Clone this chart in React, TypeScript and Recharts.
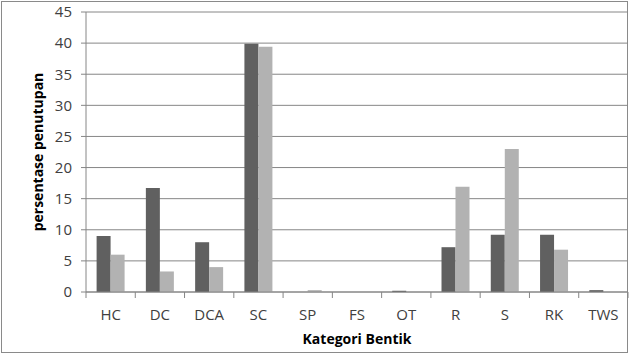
import React from 'react';
import { BarChart, Bar, XAxis, YAxis, CartesianGrid } from 'recharts';

const categories = ['HC', 'DC', 'DCA', 'SC', 'SP', 'FS', 'OT', 'R', 'S', 'RK', 'TWS'];
const seri1 = [9.0, 16.7, 8.0, 39.9, 0, 0, 0.2, 7.2, 9.2, 9.2, 0.3];
const seri2 = [6.0, 3.3, 4.0, 39.4, 0.3, 0, 0, 16.9, 23.0, 6.8, 0];
const yTicks = [0, 5, 10, 15, 20, 25, 30, 35, 40, 45];

const data = categories.map((c, i) => ({ kategori: c, seri1: seri1[i], seri2: seri2[i] }));

const W = 629;
const H = 354;
const margin = { top: 12, right: 1, bottom: 6, left: 0 };
const yAxisWidth = 86;
const band = (W - margin.left - margin.right - yAxisWidth) / categories.length;
const font = '"Open Sans", sans-serif';

const CategoryTick = (props: any) => {
  const { x, y, payload, index } = props;
  const axisY = y - 8;
  const left = x - band / 2;
  return (
    <g>
      <line x1={left} y1={axisY} x2={left} y2={axisY + 6} stroke="#868686" />
      {index === categories.length - 1 && (
        <line x1={x + band / 2} y1={axisY} x2={x + band / 2} y2={axisY + 6} stroke="#868686" />
      )}
      <text x={x} y={y} dy={20} textAnchor="middle" fill="#404040" fontSize={15} fontFamily={font}>
        {payload.value}
      </text>
    </g>
  );
};

const App = () => {
  return (
    <div style={{ position: 'absolute', left: 0, top: 0, width: W, height: H, background: '#fff' }}>
      <div
        style={{
          position: 'absolute',
          left: 1,
          top: 1,
          width: W - 2,
          height: H - 2,
          border: '1px solid #8a8a8a',
          boxSizing: 'border-box',
        }}
      />
      <BarChart width={W} height={H} data={data} margin={margin} barGap={0} barCategoryGap="21.5%">
        <CartesianGrid vertical={false} stroke="#868686" />
        <XAxis
          dataKey="kategori"
          axisLine={{ stroke: '#868686' }}
          tickLine={false}
          tick={<CategoryTick />}
          interval={0}
          height={56}
          label={{
            value: 'Kategori Bentik',
            position: 'insideBottom',
            offset: 4,
            style: { fontFamily: font, fontWeight: 700, fontSize: 14, fill: '#000' },
          }}
        />
        <YAxis
          width={yAxisWidth}
          domain={[0, 45]}
          ticks={yTicks}
          axisLine={{ stroke: '#868686' }}
          tickLine={{ stroke: '#868686' }}
          tickSize={5}
          tickMargin={9}
          tick={{ fontFamily: font, fontSize: 15, fill: '#404040' }}
          label={{
            value: 'persentase penutupan',
            angle: -90,
            position: 'insideLeft',
            offset: 38,
            style: { fontFamily: font, fontWeight: 700, fontSize: 14, fill: '#000', textAnchor: 'middle' },
          }}
        />
        <Bar dataKey="seri1" fill="#606060" isAnimationActive={false} />
        <Bar dataKey="seri2" fill="#b2b2b2" isAnimationActive={false} />
      </BarChart>
    </div>
  );
};

export default App;
